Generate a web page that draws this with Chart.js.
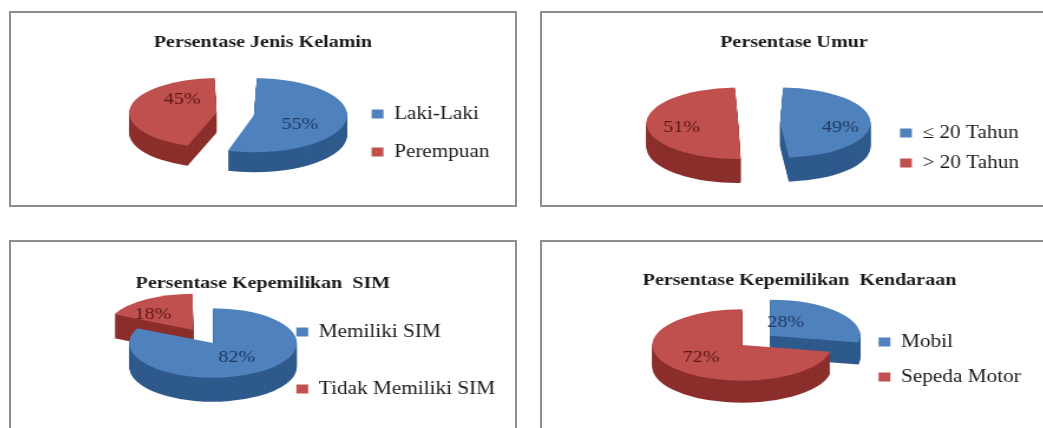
<!DOCTYPE html>
<html lang="id">
<head>
<meta charset="utf-8">
<title>Persentase Responden</title>
<script src="https://cdn.jsdelivr.net/npm/chart.js@4.4.1/dist/chart.umd.min.js"></script>
<style>
  html, body { margin: 0; padding: 0; background: #fff; }
  body { position: relative; width: 1043px; height: 428px; overflow: hidden; }
  .panel { position: absolute; width: 504px; height: 192px; border: 2px solid #8e8e8e; }
  /* the original picture is stretched sideways, so the canvases are too */
  .panel canvas { position: absolute; left: 0; top: 0; transform: scaleX(1.18); transform-origin: 0 0; }
</style>
</head>
<body>
<div class="panel" style="left:9px; top:11px;"><canvas id="kelamin" width="427" height="240"></canvas></div>
<div class="panel" style="left:540px; top:11px;"><canvas id="umur" width="427" height="270"></canvas></div>
<div class="panel" style="left:9px; top:240px;"><canvas id="sim" width="427" height="237"></canvas></div>
<div class="panel" style="left:540px; top:240px;"><canvas id="kendaraan" width="427" height="235"></canvas></div>
<script>
const kelaminLabels = ['Laki-Laki', 'Perempuan'];
const kelaminValues = [55, 45];

const umurLabels = ['\u2264 20 Tahun', '> 20 Tahun'];
const umurValues = [49, 51];

const simLabels = ['Memiliki SIM', 'Tidak Memiliki SIM'];
const simValues = [82, 18];

const kendaraanLabels = ['Mobil', 'Sepeda Motor'];
const kendaraanValues = [28, 72];

const topColors = ['#4f81bd', '#c0504d'];
const sideColors = ['#2f5a8c', '#8c2f2c'];
const labelColors = ['#1f3a64', '#5c1815'];

Chart.defaults.font.family = '"Liberation Serif", "Times New Roman", serif';

// fake 3D: squash the pie and stack darker copies of the slices under it
function pie3d(look) {
  return {
    id: 'pie3d',
    beforeDatasetsDraw(chart) {
      const ctx = chart.ctx;
      const arcs = chart.getDatasetMeta(0).data;
      ctx.save();
      ctx.translate(look.x, look.y);
      ctx.scale(1, look.tilt);
      ctx.translate(-arcs[0].x, -arcs[0].y);
      for (let d = look.depth; d > 0; d--) {
        ctx.save();
        ctx.translate(0, d / look.tilt);
        arcs.forEach((arc, i) => {
          const top = arc.options;
          arc.options = Object.assign({}, top, { backgroundColor: sideColors[i] });
          arc.draw(ctx);
          arc.options = top;
        });
        ctx.restore();
      }
    },
    afterDatasetsDraw(chart) {
      const ctx = chart.ctx;
      ctx.restore();
      const arcs = chart.getDatasetMeta(0).data;
      const values = chart.data.datasets[0].data;
      ctx.save();
      ctx.font = '17px "Liberation Serif"';
      ctx.textAlign = 'center';
      ctx.textBaseline = 'middle';
      arcs.forEach((arc, i) => {
        const mid = (arc.startAngle + arc.endAngle) / 2;
        const r = arc.outerRadius / 2 + (arc.options.offset || 0) / 4;
        const x = look.x + Math.cos(mid) * r + look.labelShift[i][0];
        const y = look.y + Math.sin(mid) * r * look.tilt + look.labelShift[i][1];
        ctx.fillStyle = labelColors[i];
        ctx.fillText(values[i] + '%', x, y);
      });
      ctx.restore();
    }
  };
}

function drawPie(id, title, labels, values, look) {
  return new Chart(document.getElementById(id), {
    type: 'pie',
    data: {
      labels: labels,
      datasets: [{
        data: values,
        backgroundColor: topColors,
        borderWidth: 0,
        offset: look.offset,
        radius: look.radius
      }]
    },
    options: {
      responsive: false,
      animation: false,
      events: [],
      devicePixelRatio: 1,
      layout: { padding: { left: look.padL, right: look.padR, top: 0, bottom: 0 } },
      plugins: {
        title: {
          display: true,
          text: title,
          color: '#1b1b1b',
          font: { size: 17, weight: 'bold' },
          padding: { top: look.titleTop, bottom: 0 }
        },
        legend: {
          position: 'right',
          maxWidth: 400,
          labels: {
            color: '#1b1b1b',
            font: { size: 18 },
            boxWidth: 10,
            boxHeight: 9,
            padding: look.legendGap
          }
        },
        tooltip: { enabled: false }
      }
    },
    plugins: [pie3d(look)]
  });
}

drawPie('kelamin', 'Persentase Jenis Kelamin', kelaminLabels, kelaminValues, {
  x: 190, y: 101, tilt: 0.47, depth: 20, radius: 63, offset: [64, 64],
  padL: 11.4, padR: 11.4, titleTop: 19.5, legendGap: 20,
  labelShift: [[8, 7.5], [2, -11]]
});

drawPie('umur', 'Persentase Umur', umurLabels, umurValues, {
  x: 184, y: 110, tilt: 0.46, depth: 24, radius: 60, offset: [71, 71],
  padL: 12.7, padR: 12.7, titleTop: 19.8, legendGap: 12,
  labelShift: [[21, 5.7], [-18, 4.3]]
});

drawPie('sim', 'Persentase Kepemilikan  SIM', simLabels, simValues, {
  x: 171.2, y: 101, tilt: 0.49, depth: 24, radius: 71, offset: [0, 126],
  padL: 6.8, padR: 6.8, titleTop: 31, legendGap: 39,
  labelShift: [[1, 0], [-15, -1]]
});

drawPie('kendaraan', 'Persentase Kepemilikan  Kendaraan', kendaraanLabels, kendaraanValues, {
  x: 169.5, y: 103, tilt: 0.47, depth: 22, radius: 76, offset: [123, 0],
  padL: 20.7, padR: 11.3, titleTop: 28.5, legendGap: 17,
  labelShift: [[-16, -2], [-5.5, 1.5]]
});
</script>
</body>
</html>
